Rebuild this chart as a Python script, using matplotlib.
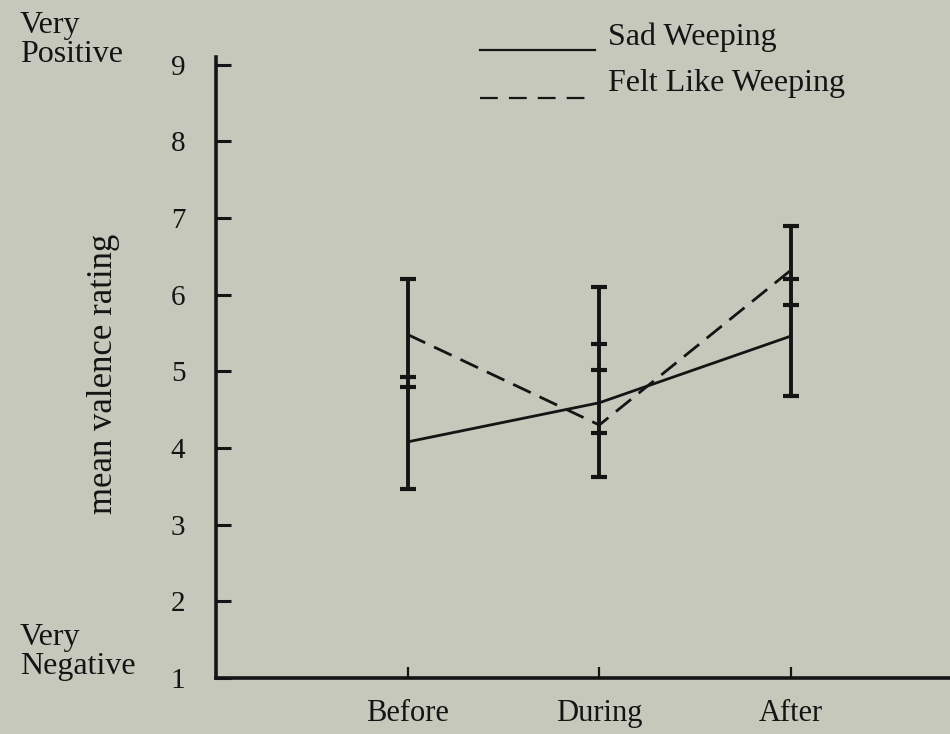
import matplotlib.pyplot as plt
from matplotlib.lines import Line2D

# dados
conditions = ['Before', 'During', 'After']
sad_weeping = [4.08, 4.59, 5.46]
felt_like_weeping = [5.48, 4.30, 6.32]

# marcas das barras de erro em cada momento (extremos e traços intermediários)
bar_marks = [
    [3.47, 4.80, 4.92, 6.20],
    [3.62, 4.20, 5.02, 5.35, 6.10],
    [4.68, 5.87, 6.21, 6.89],
]

y_ticks = [1, 2, 3, 4, 5, 6, 7, 8, 9]

plt.rcParams['font.family'] = ['Liberation Serif', 'DejaVu Serif']

fundo = '#c6c8bb'
tinta = '#141414'
W, H = 950, 734

fig = plt.figure(figsize=(9.5, 7.34), dpi=100, facecolor=fundo)
ax = fig.add_axes([216 / W, 1 - 678 / H, 1 - 216 / W, (678 - 57) / H])
ax.set_facecolor(fundo)

xs = list(range(1, len(conditions) + 1))

ax.plot(xs, sad_weeping, color=tinta, lw=2.0, solid_capstyle='round')
ax.plot(xs, felt_like_weeping, color=tinta, lw=2.0, linestyle=(0, (7, 3.5)))

for x, marcas in zip(xs, bar_marks):
    ax.vlines(x, min(marcas), max(marcas), color=tinta, lw=2.8)
    ax.plot([x] * len(marcas), marcas, linestyle='none', marker='_',
            ms=12, mew=3, color=tinta)

ax.set_xlim(0.0, 3.83)
ax.set_ylim(1, 9.10)

ax.set_xticks(xs)
ax.set_xticklabels(conditions)
ax.set_yticks(y_ticks)
ax.set_yticklabels([str(v) for v in y_ticks])

ax.tick_params(axis='y', direction='in', length=11, width=2.2, pad=22,
               labelsize=21, colors=tinta)
ax.tick_params(axis='x', direction='in', length=8, width=1.6, pad=15,
               labelsize=22, colors=tinta)

for lado in ['top', 'right']:
    ax.spines[lado].set_visible(False)
for lado in ['left', 'bottom']:
    ax.spines[lado].set_linewidth(2.6)
    ax.spines[lado].set_color(tinta)

# rótulo do eixo y
fig.text(104 / W, 1 - 374 / H, 'mean valence rating', rotation=90,
         ha='center', va='center', fontsize=25, color=tinta)

# extremos da escala
fig.text(20 / W, 1 - 40 / H, 'Very\nPositive', ha='left', va='center',
         fontsize=23, color=tinta, linespacing=1.0)
fig.text(20 / W, 1 - 652 / H, 'Very\nNegative', ha='left', va='center',
         fontsize=23, color=tinta, linespacing=1.0)

# legenda desenhada à mão, como no original
fig.add_artist(Line2D([480 / W, 595 / W], [1 - 50 / H, 1 - 50 / H],
                      transform=fig.transFigure, color=tinta, lw=1.6))
fig.add_artist(Line2D([480 / W, 595 / W], [1 - 98 / H, 1 - 98 / H],
                      transform=fig.transFigure, color=tinta, lw=1.6,
                      linestyle=(0, (8, 5))))
fig.text(608 / W, 1 - 37 / H, 'Sad Weeping', ha='left', va='center',
         fontsize=23, color=tinta)
fig.text(608 / W, 1 - 84 / H, 'Felt Like Weeping', ha='left', va='center',
         fontsize=23, color=tinta)

plt.savefig('out.png', dpi=100, facecolor=fundo)
